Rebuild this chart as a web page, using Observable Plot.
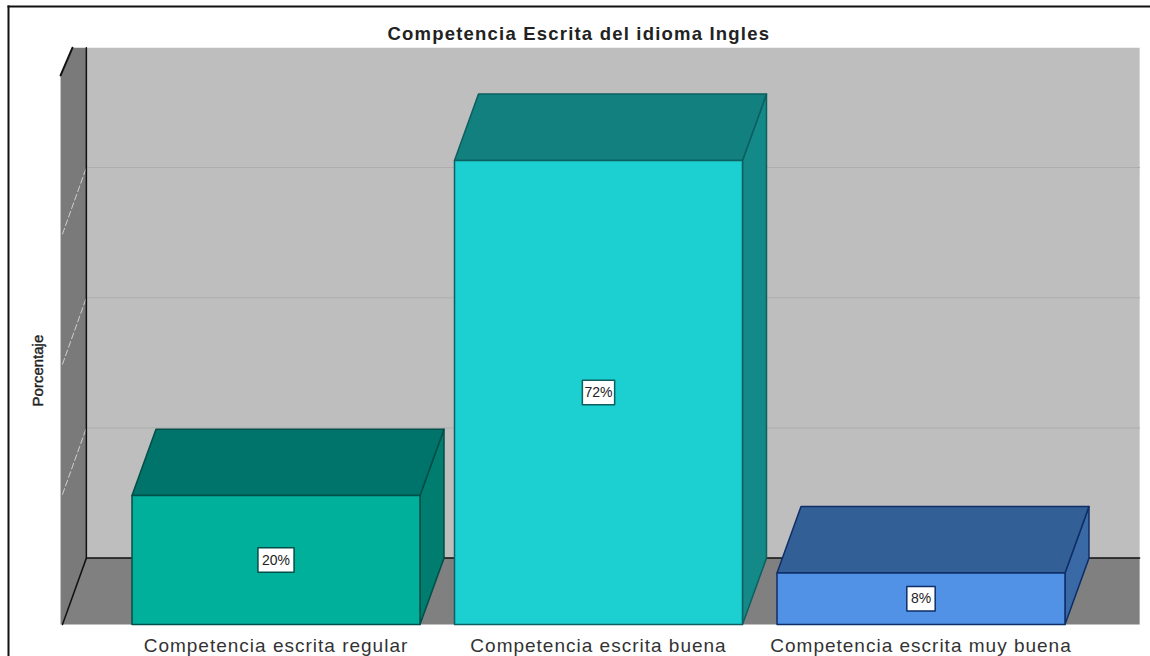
<!DOCTYPE html>
<html>
<head>
<meta charset="utf-8">
<script src="https://cdn.jsdelivr.net/npm/d3@7"></script>
<script src="https://cdn.jsdelivr.net/npm/@observablehq/plot@0.6"></script>
<style>
  html, body { margin: 0; padding: 0; background: #fff; }
  svg { display: block; }
  .title-text text { letter-spacing: 1.2px; }
  .cat-text text { letter-spacing: 1px; }
</style>
</head>
<body>
<div id="chart"></div>
<script>
const titleText = "Competencia Escrita del idioma Ingles";
const axisLabel = "Porcentaje";
const categories = ["Competencia escrita regular", "Competencia escrita buena", "Competencia escrita muy buena"];
const percentages = [20, 72, 8];
const gridValues = [20.2, 40.4, 60.6];
const frontColors = ["#00b09b", "#1ccfd0", "#5191e6"];
const topColors = ["#00736a", "#12807f", "#335f97"];
const sideColors = ["#007d6e", "#148a88", "#3a6aa5"];
const edgeColors = ["#004f48", "#0d5f60", "#0f2e68"];

// Chart geometry in data units (x: category index, y: percent)
const barW = 0.893, depthX = 0.0744, depthY = 10.3;
const floorL = -0.662, wallL = -0.668, backL = -0.588, plotR = 2.678, wallTop = 89.5, sideCut = 85.2, sideCutX = -0.631;

const poly = (pts, fill, stroke = "none", strokeWidth = 1.5) =>
  Plot.line(pts.map(([x, y]) => ({x, y})), {x: "x", y: "y", fill, stroke, strokeWidth, curve: "linear-closed"});
const seg = (pts, stroke, strokeWidth = 1.5, extra = {}) =>
  Plot.line(pts.map(([x, y]) => ({x, y})), {x: "x", y: "y", stroke, strokeWidth, ...extra});

const boxHalfW = [0.056, 0.05, 0.044], boxHalfH = 1.9;

const barMarks = percentages.flatMap((v, i) => {
  const a = i - barW / 2, b = i + barW / 2;
  return [
    poly([[b, 0], [b + depthX, depthY], [b + depthX, v + depthY], [b, v]], sideColors[i], edgeColors[i]),
    poly([[a, v], [a + depthX, v + depthY], [b + depthX, v + depthY], [b, v]], topColors[i], edgeColors[i]),
    poly([[a, 0], [a, v], [b, v], [b, 0]], frontColors[i], edgeColors[i]),
    poly([
      [i - boxHalfW[i], v / 2 - boxHalfH], [i - boxHalfW[i], v / 2 + boxHalfH],
      [i + boxHalfW[i], v / 2 + boxHalfH], [i + boxHalfW[i], v / 2 - boxHalfH]
    ], "#ffffff", edgeColors[i], 1.5),
    Plot.text([`${v}%`], {x: [i], y: [v / 2], text: d => d, fontSize: 14, fill: "#222", fontFamily: "Liberation Sans"})
  ];
});

const chart = Plot.plot({
  width: 1150,
  height: 656,
  marginLeft: 8, marginTop: 6, marginRight: 0, marginBottom: 0,
  style: {background: "#fff", overflow: "visible"},
  x: {type: "linear", domain: [0, 2], range: [275.5, 920.5], axis: null},
  y: {type: "linear", domain: [0, 72], range: [624, 160], axis: null},
  marks: [
    Plot.frame({anchor: "left", stroke: "#111", strokeWidth: 2}),
    Plot.frame({anchor: "top", stroke: "#111", strokeWidth: 2}),
    // back wall
    poly([[backL, depthY], [backL, wallTop], [plotR, wallTop], [plotR, depthY]], "#bebebe"),
    ...gridValues.map(g => seg([[backL, depthY + g], [plotR, depthY + g]], "#adadad", 1)),
    // floor
    poly([[floorL, 0], [backL, depthY], [plotR, depthY], [plotR, 0]], "#808080"),
    // side wall
    poly([[wallL, 0], [wallL, sideCut], [sideCutX, wallTop], [backL, wallTop], [backL, depthY], [floorL, 0]], "#7a7a7a"),
    ...gridValues.map(g => seg([[floorL, g], [backL, depthY + g]], "#cfcfcf", 1, {strokeDasharray: "6 3"})),
    // wall edges
    seg([[backL, wallTop], [backL, depthY], [plotR, depthY]], "#111"),
    seg([[floorL, 0], [backL, depthY]], "#111"),
    seg([[wallL, sideCut], [sideCutX, wallTop]], "#111", 2),
    ...barMarks,
    // text
    Plot.text([titleText], {x: [0.939], y: [91.6], text: d => d, fontSize: 18.5, fontWeight: "bold", fill: "#222", fontFamily: "Liberation Sans", className: "title-text"}),
    Plot.text([axisLabel], {x: [-0.736], y: [39.4], text: d => d, rotate: -90, fontSize: 15, fill: "#222", stroke: "#222", strokeWidth: 0.4, fontFamily: "Liberation Sans"}),
    Plot.text(categories, {x: (d, i) => i, y: () => -3.25, text: d => d, fontSize: 19, fill: "#333", fontFamily: "Liberation Sans", className: "cat-text"})
  ]
});
document.getElementById("chart").append(chart);
</script>
</body>
</html>
